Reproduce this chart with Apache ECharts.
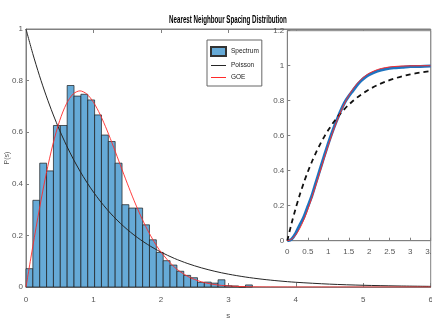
<!DOCTYPE html>
<html>
<head>
<meta charset="utf-8">
<script src="https://cdn.jsdelivr.net/npm/echarts@6/dist/echarts.min.js"></script>
<style>
  html, body { margin: 0; padding: 0; background: #fff; overflow: hidden; }
  #chart { width: 432px; height: 322px; }
</style>
</head>
<body>
<div id="chart"></div>
<script>
// Histogram of nearest-neighbour spacings (bin width in units of s)
const binWidth = 0.1017;
const spacingDensity = [
  0.071, 0.336, 0.480, 0.450, 0.626, 0.626, 0.781, 0.740, 0.747, 0.725,
  0.667, 0.589, 0.564, 0.480, 0.319, 0.306, 0.306, 0.241, 0.183, 0.134,
  0.102, 0.085, 0.061, 0.045, 0.036, 0.018, 0.019, 0.015, 0.028, 0.005,
  0.004, 0.000, 0.008
];

// Reference densities sampled along s
const sMain = [0, 0.1, 0.2, 0.3, 0.4, 0.5, 0.6, 0.7, 0.8, 0.9, 1.0, 1.1, 1.2, 1.3, 1.4,
  1.5, 1.6, 1.7, 1.8, 1.9, 2.0, 2.2, 2.4, 2.6, 2.8, 3.0, 3.25, 3.5, 3.75, 4.0, 4.5, 5.0, 5.5, 6.0];
const poissonPdf = [1.0000, 0.9048, 0.8187, 0.7408, 0.6703, 0.6065, 0.5488, 0.4966, 0.4493, 0.4066,
  0.3679, 0.3329, 0.3012, 0.2725, 0.2466, 0.2231, 0.2019, 0.1827, 0.1653, 0.1496, 0.1353,
  0.1108, 0.0907, 0.0743, 0.0608, 0.0498, 0.0388, 0.0302, 0.0235, 0.0183, 0.0111, 0.0067, 0.0041, 0.0025];
const goePdf = [0, 0.1559, 0.3044, 0.4391, 0.5541, 0.6454, 0.7104, 0.7483, 0.7602, 0.7483,
  0.7162, 0.6680, 0.6083, 0.5416, 0.4718, 0.4025, 0.3365, 0.2759, 0.2220, 0.1752, 0.1358,
  0.0772, 0.0409, 0.0202, 0.0093, 0.0040, 0.0013, 0.0004, 0.0001, 0, 0, 0, 0, 0];

// Cumulative distributions (inset)
const sCum = [0, 0.1, 0.2, 0.3, 0.4, 0.5, 0.6, 0.7, 0.8, 0.9, 1.0, 1.1, 1.2, 1.3, 1.4,
  1.5, 1.6, 1.7, 1.8, 1.9, 2.0, 2.2, 2.4, 2.6, 2.8, 3.0, 3.25, 3.5];
const spectrumCdf = [0, 0.007, 0.040, 0.088, 0.133, 0.195, 0.257, 0.333, 0.408, 0.483,
  0.556, 0.623, 0.684, 0.741, 0.790, 0.826, 0.857, 0.888, 0.914, 0.934, 0.949,
  0.969, 0.981, 0.988, 0.991, 0.995, 0.996, 0.998];
const poissonCdf = [0, 0.0952, 0.1813, 0.2592, 0.3297, 0.3935, 0.4512, 0.5034, 0.5507, 0.5934,
  0.6321, 0.6671, 0.6988, 0.7275, 0.7534, 0.7769, 0.7981, 0.8173, 0.8347, 0.8504, 0.8647,
  0.8892, 0.9093, 0.9257, 0.9392, 0.9502, 0.9612, 0.9698];
const goeCdf = [0, 0.0078, 0.0309, 0.0683, 0.1181, 0.1783, 0.2463, 0.3194, 0.3951, 0.4707,
  0.5441, 0.6134, 0.6773, 0.7348, 0.7855, 0.8292, 0.8661, 0.8967, 0.9215, 0.9413, 0.9568,
  0.9777, 0.9892, 0.9951, 0.9979, 0.9991, 0.9998, 1.0000];

const TITLE = 'Nearest Neighbour Spacing Distribution';
const FONT = "'Liberation Sans Narrow', 'Liberation Sans', Arial, sans-serif";
const AXIS_COLOR = '#808080';
const LABEL_COLOR = '#555555';
const BAR_FILL = '#66aad7';
const POISSON_COLOR = '#262626';
const GOE_COLOR = '#ff2a2a';
const LINE_ICON = 'path://M0,0 L20,0 L20,1.4 L0,1.4 Z';

const histData = spacingDensity.map((h, i) => [i * binWidth, (i + 1) * binWidth, h]);
const pair = (xs, ys) => xs.map((x, i) => [x, ys[i]]);

function axisCommon(extra) {
  return Object.assign({
    type: 'value',
    axisLine: { show: true, lineStyle: { color: AXIS_COLOR, width: 1 } },
    axisTick: { show: true, inside: true, length: 3, lineStyle: { color: AXIS_COLOR } },
    axisLabel: { color: LABEL_COLOR, fontFamily: FONT, fontSize: 8 },
    splitLine: { show: false }
  }, extra);
}

const chart = echarts.init(document.getElementById('chart'), null, { renderer: 'canvas' });

chart.setOption({
  animation: false,
  backgroundColor: '#fff',
  graphic: [{
    type: 'text', x: 228, y: 20, scaleX: 0.62, z: 20,
    style: {
      text: TITLE, fill: '#000', align: 'center', verticalAlign: 'middle',
      font: 'bold 10px ' + FONT
    }
  }],
  legend: {
    orient: 'vertical', left: 207, top: 40,
    padding: [6, 3, 5, 3], itemGap: 5, itemWidth: 15, itemHeight: 9, itemTextGap: 2,
    borderColor: '#666', borderWidth: 1, backgroundColor: '#fff',
    textStyle: { fontFamily: FONT, fontSize: 6.5, color: '#222' },
    data: [
      { name: 'Spectrum', icon: 'rect' },
      { name: 'Poisson', icon: LINE_ICON, itemStyle: { color: POISSON_COLOR } },
      { name: 'GOE', icon: LINE_ICON, itemStyle: { color: GOE_COLOR } }
    ],
    z: 10
  },
  grid: [
    { left: 26, right: 1.3, top: 29, bottom: 35, outerBoundsMode: 'none', containLabel: false,
      show: true, borderColor: AXIS_COLOR, borderWidth: 1, backgroundColor: 'transparent' },
    { left: 287.3, right: 1.3, top: 30.7, bottom: 81.3, outerBoundsMode: 'none', containLabel: false,
      show: true, borderColor: AXIS_COLOR, borderWidth: 1, backgroundColor: '#fff', z: 4 }
  ],
  xAxis: [
    axisCommon({ gridIndex: 0, min: 0, max: 6, interval: 1, name: 's', nameLocation: 'middle', nameGap: 25,
      nameMoveOverlap: false,
      nameTextStyle: { fontFamily: FONT, fontSize: 8, color: LABEL_COLOR },
      axisTick: { show: true, inside: true, length: 4, lineStyle: { color: AXIS_COLOR } },
      axisLabel: { color: LABEL_COLOR, fontFamily: FONT, fontSize: 8, margin: 9 } }),
    axisCommon({ gridIndex: 0, min: 0, max: 6, interval: 1, position: 'top', axisLabel: { show: false },
      axisTick: { show: true, inside: true, length: 4, lineStyle: { color: AXIS_COLOR } } }),
    axisCommon({ gridIndex: 1, min: 0, max: 3.5, interval: 0.5, z: 5,
      axisLabel: { color: LABEL_COLOR, fontFamily: FONT, fontSize: 8, margin: 7 } })
  ],
  yAxis: [
    axisCommon({ gridIndex: 0, min: 0, max: 1, interval: 0.2, name: 'P(s)', nameLocation: 'middle', nameGap: 15,
      nameMoveOverlap: false,
      nameTextStyle: { fontFamily: FONT, fontSize: 7, color: LABEL_COLOR },
      axisLabel: { color: LABEL_COLOR, fontFamily: FONT, fontSize: 8, margin: 3 } }),
    axisCommon({ gridIndex: 1, min: 0, max: 1.2, interval: 0.2, z: 5,
      axisLabel: { color: LABEL_COLOR, fontFamily: FONT, fontSize: 8, margin: 3 } })
  ],
  series: [
    {
      name: 'Spectrum', type: 'custom', xAxisIndex: 0, yAxisIndex: 0,
      itemStyle: { color: BAR_FILL, borderColor: '#333', borderWidth: 0.6 },
      encode: { x: [0, 1], y: 2 },
      renderItem: function (params, api) {
        const top = api.coord([api.value(0), api.value(2)]);
        const base = api.coord([api.value(1), 0]);
        return {
          type: 'rect',
          shape: { x: top[0], y: top[1], width: base[0] - top[0], height: base[1] - top[1] },
          style: { fill: BAR_FILL, stroke: '#1a1a1a', lineWidth: 0.7 }
        };
      },
      data: histData
    },
    {
      name: 'Poisson', type: 'line', xAxisIndex: 0, yAxisIndex: 0, symbol: 'none', smooth: 0.3,
      lineStyle: { color: POISSON_COLOR, width: 1 }, itemStyle: { color: POISSON_COLOR },
      data: pair(sMain, poissonPdf)
    },
    {
      name: 'GOE', type: 'line', xAxisIndex: 0, yAxisIndex: 0, symbol: 'none', smooth: 0.3,
      lineStyle: { color: GOE_COLOR, width: 0.9 }, itemStyle: { color: GOE_COLOR },
      data: pair(sMain, goePdf)
    },
    {
      name: 'Spectrum', type: 'line', xAxisIndex: 2, yAxisIndex: 1, symbol: 'none', z: 6, smooth: 0.3,
      lineStyle: { color: '#1f74c0', width: 3 },
      data: pair(sCum, spectrumCdf)
    },
    {
      name: 'Poisson', type: 'line', xAxisIndex: 2, yAxisIndex: 1, symbol: 'none', z: 6, smooth: 0.3,
      lineStyle: { color: '#111', width: 1.8, type: [5, 4] },
      data: pair(sCum, poissonCdf)
    },
    {
      name: 'GOE', type: 'line', xAxisIndex: 2, yAxisIndex: 1, symbol: 'none', z: 7, smooth: 0.3,
      lineStyle: { color: GOE_COLOR, width: 1 },
      data: pair(sCum, goeCdf)
    }
  ]
});
</script>
</body>
</html>
